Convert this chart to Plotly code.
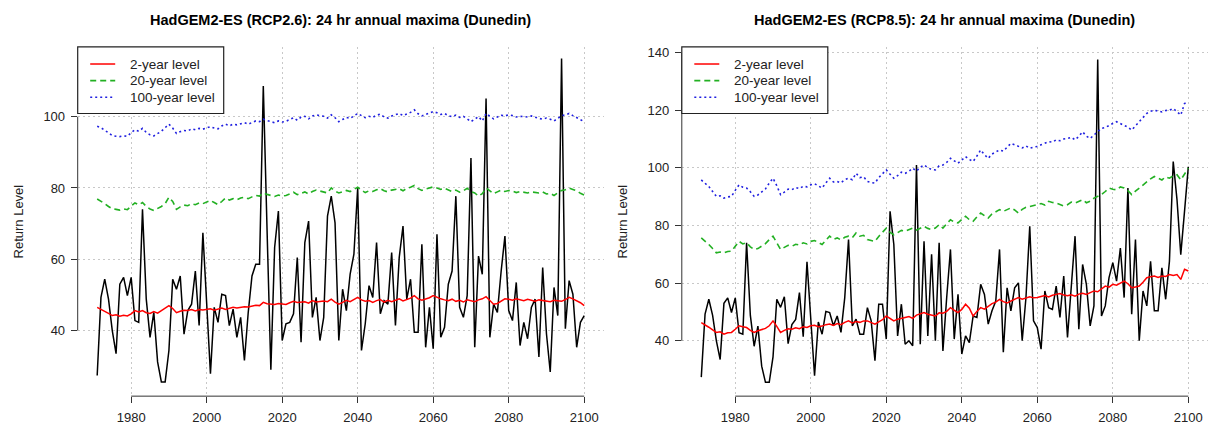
import plotly.graph_objects as go

# ---------------------------------------------------------------
# Data: 24 hr annual maxima at Dunedin from HadGEM2-ES, 1971-2100,
# with the fitted 2-, 20- and 100-year return levels per scenario.
# ---------------------------------------------------------------
years = list(range(1971, 2101))

# Shared historical run, 1971-2005
hist_max = [
    27.4, 49.3, 54.4, 48.8, 40.0, 33.5, 53.0, 54.9, 49.8, 54.9,
    42.8, 42.3, 74.0, 48.8, 38.1, 45.1, 31.2, 25.6, 25.6, 34.4,
    54.4, 51.6, 55.3, 39.0, 45.6, 47.4, 56.7, 41.4, 67.4, 47.5,
    27.9, 46.5, 42.3, 50.2, 49.8,
]

# RCP2.6 projection, 2006-2100
rcp26_future_max = [
    41.4, 46.0, 38.1, 43.7, 31.6,
    45.0, 55.3, 58.6, 58.6, 108.6, 68.0, 29.0, 63.3, 73.5, 37.2,
    41.9, 42.3, 44.7, 60.5, 36.7, 64.7, 70.7, 43.7, 49.3, 37.2,
    43.7, 72.1, 77.7, 70.2, 37.2, 51.6, 45.6, 55.8, 61.4, 80.0,
    34.4, 41.9, 52.6, 49.3, 64.7, 44.7, 48.4, 47.4, 61.9, 41.4,
    60.5, 69.3, 48.8, 54.4, 39.5, 39.5, 64.2, 35.3, 46.5, 34.9,
    67.0, 38.1, 40.9, 53.0, 56.7, 77.7, 46.5, 43.7, 49.8, 88.4,
    35.3, 60.9, 55.8, 105.1, 38.1, 47.4, 45.1, 56.7, 66.5, 45.6,
    42.8, 53.5, 35.8, 42.3, 37.7, 46.5, 48.8, 32.6, 57.7, 39.1,
    28.4, 52.1, 44.2, 116.3, 40.5, 54.0, 50.2, 35.3, 42.3, 44.2,
]

# RCP8.5 projection, 2006-2100
rcp85_future_max = [
    45.2, 48.6, 42.9, 55.0, 75.1,
    45.2, 47.5, 42.3, 42.3, 51.5, 46.9, 33.1, 52.7, 52.7, 40.6,
    84.9, 73.4, 41.7, 52.7, 38.8, 40.0, 38.3, 101.0, 38.8, 74.5,
    41.7, 70.0, 40.0, 74.0, 36.5, 55.0, 71.7, 40.6, 56.1, 35.4,
    41.7, 39.4, 48.6, 48.1, 59.6, 56.1, 45.8, 50.4, 53.8, 71.7,
    36.0, 58.4, 50.4, 58.4, 60.1, 40.0, 55.0, 79.7, 46.9, 44.6,
    37.1, 57.3, 51.5, 50.9, 59.0, 48.1, 62.5, 41.2, 59.6, 76.3,
    44.0, 66.5, 59.6, 45.2, 52.1, 137.6, 48.6, 52.1, 61.9, 67.1,
    60.7, 72.2, 55.0, 93.0, 49.2, 75.1, 40.0, 57.3, 52.1, 67.6,
    50.4, 50.4, 65.3, 54.4, 67.6, 102.2, 89.0, 69.9, 85.0, 100.4,
]

rcp26_rl2 = [
    46.5, 46.0, 45.3, 44.8, 44.2, 44.4, 44.0, 44.3, 44.1, 44.7,
    45.6, 45.2, 45.6, 45.0, 44.8, 45.3, 44.9, 45.6, 46.3, 47.0,
    46.2, 45.0, 45.4, 45.7, 45.6, 45.9, 45.5, 45.9, 45.8, 46.0,
    46.1, 45.7, 46.0, 46.3, 45.9, 46.2, 46.5, 46.3, 46.6, 46.7,
    46.6, 46.9, 47.1, 47.0, 47.9, 47.5, 47.3, 47.3, 47.6, 47.4,
    47.3, 47.8, 48.2, 47.9, 48.0, 48.1, 47.7, 48.4, 48.0, 48.2,
    48.3, 48.1, 48.8, 48.0, 47.4, 47.9, 48.5, 48.1, 48.7, 49.3,
    48.6, 48.2, 48.4, 47.9, 48.4, 48.7, 48.0, 48.5, 48.1, 48.4,
    48.9, 48.3, 48.7, 49.1, 49.8, 48.9, 48.5, 48.8, 49.2, 49.8,
    49.3, 48.9, 48.6, 48.4, 48.8, 48.2, 48.5, 48.0, 48.6, 48.4,
    48.1, 48.6, 48.9, 49.5, 48.3, 47.4, 47.6, 48.3, 48.9, 48.8,
    48.5, 48.9, 48.7, 48.4, 48.8, 48.5, 48.2, 48.6, 48.4, 48.3,
    48.1, 48.5, 48.4, 48.2, 48.7, 49.3, 48.9, 48.4, 47.8, 47.0,
]

rcp26_rl20 = [
    76.9, 76.3, 75.6, 74.8, 74.2, 74.0, 73.8, 74.1, 73.9, 74.9,
    75.8, 75.3, 75.9, 74.8, 74.1, 73.7, 74.2, 74.8, 75.6, 77.4,
    76.2, 74.0, 74.7, 75.2, 75.0, 75.6, 75.3, 75.8, 75.6, 76.1,
    76.5, 75.9, 75.3, 76.2, 77.2, 76.6, 77.0, 76.7, 77.2, 77.4,
    77.0, 77.5, 77.9, 77.7, 78.6, 78.2, 77.8, 77.6, 78.0, 77.7,
    77.9, 78.4, 78.8, 78.1, 78.6, 78.9, 78.3, 79.0, 79.4, 79.2,
    79.0, 78.6, 80.0, 79.1, 78.6, 78.9, 79.3, 79.0, 79.6, 80.2,
    79.4, 78.7, 79.2, 79.0, 79.5, 79.8, 79.2, 78.9, 79.4, 79.5,
    79.8, 79.2, 79.9, 80.2, 80.7, 79.8, 79.3, 79.7, 80.1, 80.3,
    80.0, 79.6, 79.9, 79.4, 79.0, 79.4, 78.8, 79.2, 79.9, 79.0,
    78.6, 77.7, 78.4, 80.0, 79.1, 78.4, 78.9, 79.4, 79.0, 79.3,
    79.1, 78.7, 79.0, 78.8, 78.6, 78.9, 78.7, 78.6, 78.9, 78.3,
    78.5, 77.9, 78.6, 79.3, 79.5, 80.0, 79.6, 79.2, 78.5, 78.0,
]

rcp26_rl100 = [
    97.3, 96.9, 96.2, 95.4, 94.7, 94.5, 94.4, 94.6, 94.5, 95.5,
    96.3, 95.9, 96.7, 95.6, 94.9, 94.6, 95.2, 95.9, 96.9, 97.9,
    96.8, 95.3, 95.8, 96.1, 96.0, 96.6, 96.3, 96.7, 96.5, 96.9,
    97.2, 96.8, 96.6, 97.4, 97.9, 97.4, 97.9, 97.7, 98.0, 98.3,
    97.9, 98.4, 98.8, 98.6, 99.3, 98.9, 98.5, 98.3, 98.8, 98.5,
    98.7, 99.2, 99.7, 99.0, 99.9, 100.1, 99.4, 100.2, 100.5, 100.3,
    100.1, 99.6, 100.5, 99.7, 98.6, 99.2, 99.8, 99.5, 100.2, 100.9,
    100.3, 99.7, 100.1, 99.8, 100.4, 100.7, 99.9, 99.6, 100.2, 100.6,
    100.9, 100.3, 100.7, 101.2, 101.9, 100.8, 100.2, 100.6, 101.0, 101.4,
    101.1, 100.6, 100.9, 100.3, 100.0, 100.4, 99.8, 100.1, 99.4, 98.6,
    99.3, 100.0, 98.8, 100.9, 100.1, 99.4, 99.9, 100.4, 100.2, 100.5,
    100.3, 99.9, 100.1, 99.9, 99.9, 100.2, 99.8, 99.5, 99.3, 99.6,
    99.3, 98.8, 99.5, 100.3, 100.5, 100.9, 100.3, 99.7, 99.2, 98.6,
]

rcp85_rl2 = [
    46.3, 45.6, 44.7, 43.8, 42.9, 43.1, 42.3, 42.8, 42.9, 44.0,
    45.2, 44.9, 44.6, 43.6, 42.9, 43.5, 44.0, 44.3, 45.2, 46.9,
    45.0, 42.9, 43.6, 44.2, 44.0, 44.5, 44.2, 44.9, 44.6, 45.2,
    45.4, 44.9, 45.1, 45.6, 45.8, 45.3, 46.0, 45.6, 46.4, 46.9,
    46.2, 46.7, 46.4, 46.9, 46.9, 46.3, 45.8, 46.6, 47.3, 48.6,
    47.7, 46.9, 47.5, 47.9, 48.1, 48.4, 47.8, 48.9, 49.3, 49.8,
    49.2, 48.8, 48.6, 49.7, 49.6, 50.2, 51.5, 50.6, 49.8, 50.9,
    52.7, 51.3, 48.6, 50.2, 51.5, 51.0, 52.1, 52.9, 53.4, 54.4,
    53.6, 53.1, 53.8, 54.5, 55.0, 54.4, 54.8, 55.3, 54.9, 55.0,
    55.4, 55.7, 55.2, 55.8, 56.1, 56.4, 55.9, 55.6, 56.0, 55.5,
    56.2, 56.5, 56.1, 56.7, 57.3, 57.0, 58.1, 59.0, 58.6, 59.6,
    59.3, 60.1, 60.7, 59.8, 58.4, 58.7, 59.0, 60.3, 61.9, 62.2,
    62.5, 62.0, 62.5, 62.3, 63.0, 62.7, 63.0, 61.3, 64.8, 64.2,
]

rcp85_rl20 = [
    75.7, 74.6, 73.4, 72.0, 70.5, 70.8, 70.5, 71.0, 71.1, 72.8,
    74.5, 73.6, 74.0, 72.6, 71.7, 72.0, 72.8, 73.7, 75.1, 76.3,
    74.0, 71.7, 72.4, 73.1, 72.8, 73.5, 73.2, 74.0, 73.6, 74.5,
    74.8, 74.0, 73.4, 74.9, 76.3, 75.2, 75.7, 75.0, 75.9, 76.3,
    75.8, 77.4, 76.3, 76.6, 75.1, 74.8, 74.5, 76.2, 77.5, 79.1,
    77.6, 76.8, 77.5, 78.3, 78.0, 78.6, 79.1, 78.4, 79.0, 79.7,
    79.0, 78.6, 79.1, 80.3, 79.1, 80.6, 82.0, 81.2, 80.9, 82.1,
    83.2, 82.0, 81.5, 83.0, 84.3, 83.4, 82.6, 84.0, 84.8, 85.5,
    84.9, 85.6, 86.1, 85.4, 84.3, 85.6, 86.3, 86.6, 86.9, 87.2,
    87.6, 87.1, 88.4, 88.0, 87.8, 87.3, 86.8, 87.2, 88.1, 87.8,
    88.3, 88.9, 87.9, 88.4, 89.5, 90.2, 90.7, 91.8, 93.0, 92.6,
    92.4, 93.4, 93.0, 92.1, 90.7, 91.9, 93.0, 94.2, 95.3, 96.2,
    97.0, 96.3, 95.8, 96.9, 96.4, 97.2, 97.6, 95.8, 98.1, 99.9,
]

rcp85_rl100 = [
    95.8, 94.8, 93.5, 91.8, 90.1, 90.3, 89.5, 89.9, 90.1, 92.2,
    94.1, 93.3, 93.0, 91.7, 90.1, 90.6, 91.8, 92.7, 94.7, 96.4,
    93.8, 90.7, 91.6, 92.6, 92.4, 93.2, 92.8, 93.6, 93.4, 94.1,
    94.5, 93.6, 93.0, 94.8, 96.4, 95.1, 95.3, 94.8, 95.9, 96.4,
    95.9, 98.1, 96.6, 96.9, 95.3, 94.9, 94.7, 96.6, 98.0, 99.3,
    97.8, 96.4, 97.3, 98.5, 98.1, 98.8, 99.9, 98.9, 100.2, 101.0,
    100.1, 99.4, 99.3, 100.7, 101.0, 101.9, 103.3, 102.3, 101.6, 102.7,
    103.9, 102.9, 102.2, 104.1, 106.2, 104.6, 103.3, 104.8, 105.6, 106.2,
    105.8, 107.0, 108.5, 108.0, 107.4, 106.9, 107.6, 106.8, 107.2, 107.4,
    108.0, 108.6, 109.1, 108.9, 109.7, 109.4, 110.0, 110.2, 110.6, 109.7,
    110.9, 112.5, 111.0, 110.2, 111.4, 112.3, 113.7, 114.0, 114.8, 115.4,
    116.0, 115.3, 114.8, 114.1, 113.1, 114.5, 116.0, 117.6, 118.9, 119.6,
    120.0, 119.7, 119.4, 119.9, 120.0, 120.6, 119.4, 118.3, 122.3, 122.9,
]

x_ticks = [1980, 2000, 2020, 2040, 2060, 2080, 2100]
y_ticks_26 = [40, 60, 80, 100]
y_ticks_85 = [40, 60, 80, 100, 120, 140]
level_names = ["2-year level", "20-year level", "100-year level"]

panels = [
    dict(title="HadGEM2-ES (RCP2.6): 24 hr annual maxima (Dunedin)",
         maxima=hist_max + rcp26_future_max,
         levels=[rcp26_rl2, rcp26_rl20, rcp26_rl100],
         yticks=y_ticks_26, yrange=[21.6, 119.6]),
    dict(title="HadGEM2-ES (RCP8.5): 24 hr annual maxima (Dunedin)",
         maxima=hist_max + rcp85_future_max,
         levels=[rcp85_rl2, rcp85_rl20, rcp85_rl100],
         yticks=y_ticks_85, yrange=[20.8, 142.0]),
]

# ---------------------------------------------------------------
# Styling
# ---------------------------------------------------------------
W, H = 1211, 427
FONT = "Liberation Sans, Arial, Helvetica, sans-serif"
level_styles = [
    dict(color="#ff0000", width=1.5, dash="solid"),
    dict(color="#22b022", width=1.6, dash="6px,4px"),
    dict(color="#2020e0", width=1.6, dash="2px,3px"),
]
plot_left = [77.7, 681.8]      # left edge of each plotting region, px
plot_right = [603.7, 1207.8]
plot_top, plot_bottom = 45, 396
x_doms = [[l / W, r / W] for l, r in zip(plot_left, plot_right)]
y_dom = [(H - plot_bottom) / H, (H - plot_top) / H]
label_x = [18 / W, 622 / W]


def px(xp):
    return xp / W


def py(yp):
    return 1 - yp / H


fig = go.Figure()
layout_extra = {}
shapes = []
annotations = []

for i, p in enumerate(panels):
    sfx = "" if i == 0 else str(i + 1)
    xa, ya = "x" + sfx, "y" + sfx

    fig.add_trace(go.Scatter(
        x=years, y=p["maxima"], mode="lines", xaxis=xa, yaxis=ya,
        line=dict(color="black", width=1.5), showlegend=False,
        name="annual maximum"))
    for name, vals, st in zip(level_names, p["levels"], level_styles):
        fig.add_trace(go.Scatter(
            x=years, y=vals, mode="lines", name=name, xaxis=xa, yaxis=ya,
            line=st, showlegend=False))

    grid = dict(showgrid=True, gridcolor="#c8c8c8", gridwidth=1,
                griddash="2px,3px", zeroline=False, showline=False,
                ticks="outside", ticklen=6, tickwidth=1, tickcolor="#333",
                ticklabelstandoff=3,
                tickfont=dict(family=FONT, size=13, color="#222"))
    layout_extra["xaxis" + sfx] = dict(
        domain=x_doms[i], range=[1965.84, 2105.16], tickvals=x_ticks,
        anchor=ya, **grid)
    layout_extra["yaxis" + sfx] = dict(
        domain=y_dom, range=p["yrange"], tickvals=p["yticks"],
        anchor=xa, **grid)

    # R-style axis lines spanning only the first to the last tick
    shapes.append(dict(type="line", xref=xa + " domain", yref=ya,
                       x0=0, x1=0, y0=p["yticks"][0], y1=p["yticks"][-1],
                       line=dict(color="#333", width=1)))
    shapes.append(dict(type="line", xref=xa, yref=ya + " domain",
                       x0=x_ticks[0], x1=x_ticks[-1], y0=0, y1=0,
                       line=dict(color="#333", width=1)))

    # Legend box in the top-left corner of the plotting region
    left = plot_left[i]
    shapes.append(dict(type="rect", xref="paper", yref="paper",
                       x0=px(left), x1=px(left + 146),
                       y0=py(plot_top), y1=py(plot_top + 67),
                       fillcolor="white", line=dict(color="#222", width=1.2),
                       layer="above"))
    for k, (name, st) in enumerate(zip(level_names, level_styles)):
        row_y = plot_top + 17.3 + k * 16.7
        shapes.append(dict(type="line", xref="paper", yref="paper",
                           x0=px(left + 12.5), x1=px(left + 37.5),
                           y0=py(row_y), y1=py(row_y),
                           line=dict(color=st["color"], width=st["width"],
                                     dash=st["dash"]),
                           layer="above"))
        annotations.append(dict(
            text=name, xref="paper", yref="paper", x=px(left + 50),
            y=py(row_y), xanchor="left", yanchor="middle", showarrow=False,
            font=dict(family=FONT, size=13.5, color="#222")))

    annotations.append(dict(
        text="<b>" + p["title"] + "</b>", xref="paper", yref="paper",
        x=sum(x_doms[i]) / 2, y=py(18), xanchor="center",
        yanchor="middle", showarrow=False,
        font=dict(family=FONT, size=14.5, color="black")))
    annotations.append(dict(
        text="Return Level", xref="paper", yref="paper",
        x=label_x[i], y=sum(y_dom) / 2, xanchor="center", yanchor="middle",
        textangle=-90, showarrow=False,
        font=dict(family=FONT, size=13, color="#222")))

fig.update_layout(
    width=W, height=H, margin=dict(l=0, r=0, t=0, b=0),
    paper_bgcolor="white", plot_bgcolor="white",
    showlegend=False, shapes=shapes, annotations=annotations,
    **layout_extra)

fig.write_html("out.html")
